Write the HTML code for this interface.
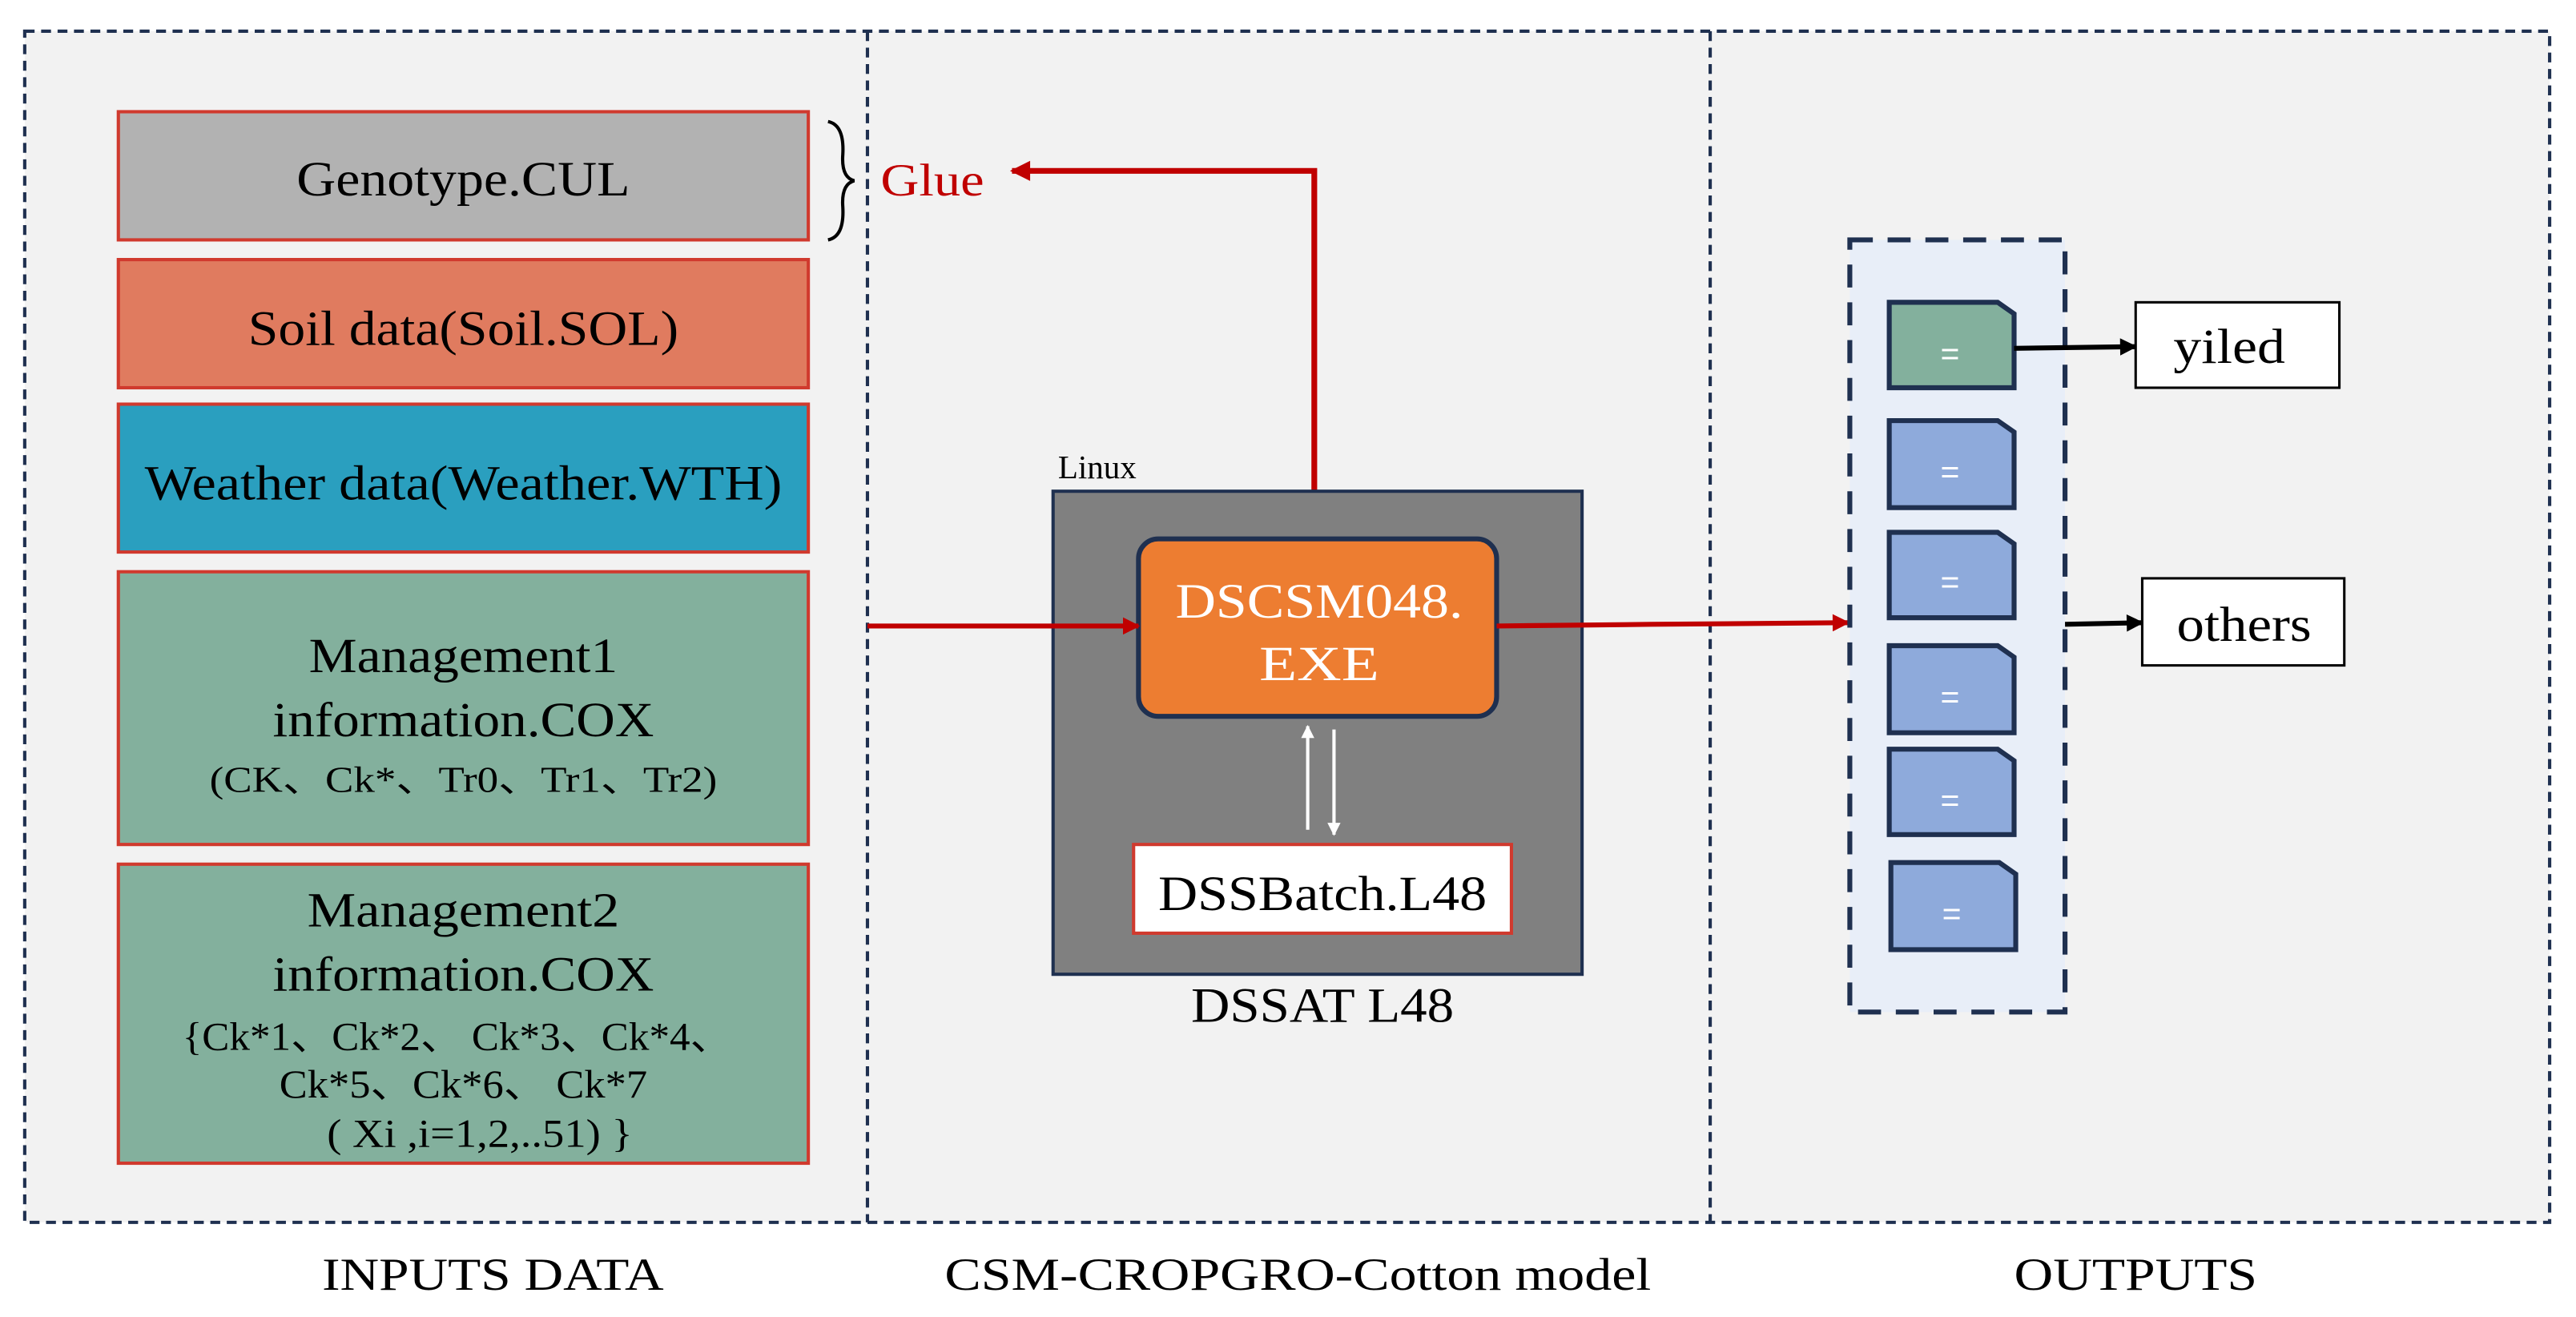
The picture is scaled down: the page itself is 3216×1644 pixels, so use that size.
<!DOCTYPE html>
<html><head><meta charset="utf-8"><style>html,body{margin:0;padding:0;background:#fff}svg{display:block}</style></head>
<body>
<svg width="3216" height="1644" viewBox="0 0 1568 801.6" xmlns="http://www.w3.org/2000/svg" font-family="Liberation Serif, serif">
<defs>
<marker id="ar" viewBox="0 0 10 10" refX="9" refY="5" markerWidth="5" markerHeight="3.5" orient="auto" markerUnits="strokeWidth"><path d="M0,0L10,5L0,10z" fill="#c00000"/></marker>
<marker id="ab" viewBox="0 0 10 10" refX="9" refY="5" markerWidth="5" markerHeight="3.5" orient="auto" markerUnits="strokeWidth"><path d="M0,0L10,5L0,10z" fill="#000"/></marker>
<marker id="aw" viewBox="0 0 10 10" refX="9" refY="5" markerWidth="5" markerHeight="4" orient="auto" markerUnits="strokeWidth"><path d="M0,0L10,5L0,10z" fill="#fff"/></marker>
</defs>
<rect x="15" y="19" width="1537" height="725" fill="#f2f2f2" stroke="#1f3050" stroke-width="2" stroke-dasharray="6,4"/>
<line x1="528" y1="19" x2="528" y2="744" stroke="#1f3050" stroke-width="2" stroke-dasharray="6,4"/>
<line x1="1041" y1="19" x2="1041" y2="744" stroke="#1f3050" stroke-width="2" stroke-dasharray="6,4"/>
<g stroke="#d03a2e" stroke-width="2">
<rect x="72" y="68" width="420" height="78" fill="#b2b2b2"/>
<rect x="72" y="158" width="420" height="78" fill="#e07b5f"/>
<rect x="72" y="246" width="420" height="90" fill="#2a9fbf"/>
<rect x="72" y="348" width="420" height="166" fill="#83b09d"/>
<rect x="72" y="526" width="420" height="182" fill="#83b09d"/>
</g>
<g text-anchor="middle" fill="#000" font-size="30">
<text x="282" y="119" textLength="203" lengthAdjust="spacingAndGlyphs">Genotype.CUL</text>
<text x="282" y="210" textLength="262" lengthAdjust="spacingAndGlyphs">Soil data(Soil.SOL)</text>
<text x="282" y="304" textLength="388" lengthAdjust="spacingAndGlyphs">Weather data(Weather.WTH)</text>
<text x="282" y="409" textLength="188" lengthAdjust="spacingAndGlyphs">Management1</text>
<text x="282" y="448" textLength="232" lengthAdjust="spacingAndGlyphs">information.COX</text>
<text x="282" y="482" font-size="22" textLength="309" lengthAdjust="spacingAndGlyphs">(CK、Ck*、Tr0、Tr1、Tr2)</text>
<text x="282" y="564" textLength="190" lengthAdjust="spacingAndGlyphs">Management2</text>
<text x="282" y="603" textLength="232" lengthAdjust="spacingAndGlyphs">information.COX</text>
<text x="278" y="639" font-size="24" textLength="334" lengthAdjust="spacingAndGlyphs">{Ck*1、Ck*2、 Ck*3、Ck*4、</text>
<text x="282" y="668" font-size="24" textLength="224" lengthAdjust="spacingAndGlyphs">Ck*5、Ck*6、 Ck*7</text>
<text x="292" y="698" font-size="24" textLength="186" lengthAdjust="spacingAndGlyphs">( Xi ,i=1,2,..51) }</text>
</g>
<path d="M504,74 Q514,76 513,94 Q512,108 520,110 Q512,112 513,126 Q514,144 504,146" fill="none" stroke="#000" stroke-width="2"/>
<text x="536" y="119" font-size="28" fill="#c00000" textLength="63" lengthAdjust="spacingAndGlyphs">Glue</text>
<polyline points="800,330 800,104 616,104" fill="none" stroke="#c00000" stroke-width="3.5" marker-end="url(#ar)"/>
<text x="644" y="291" font-size="20">Linux</text>
<rect x="641" y="299" width="322" height="294" fill="#808080" stroke="#1f3050" stroke-width="2"/>
<rect x="693" y="328" width="218" height="108" rx="12" fill="#ed7d31" stroke="#1f3050" stroke-width="3"/>
<text x="803" y="376" font-size="30" fill="#fff" text-anchor="middle" textLength="175" lengthAdjust="spacingAndGlyphs">DSCSM048.</text>
<text x="803" y="414" font-size="30" fill="#fff" text-anchor="middle" textLength="73" lengthAdjust="spacingAndGlyphs">EXE</text>
<line x1="796" y1="505" x2="796" y2="442" stroke="#fff" stroke-width="2" marker-end="url(#aw)"/>
<line x1="812" y1="444" x2="812" y2="508" stroke="#fff" stroke-width="2" marker-end="url(#aw)"/>
<rect x="690" y="514" width="230" height="54" fill="#fff" stroke="#d03a2e" stroke-width="2"/>
<text x="805" y="554" font-size="30" text-anchor="middle" textLength="200" lengthAdjust="spacingAndGlyphs">DSSBatch.L48</text>
<text x="805" y="622" font-size="30" text-anchor="middle" textLength="160" lengthAdjust="spacingAndGlyphs">DSSAT L48</text>
<line x1="528" y1="381" x2="693" y2="381" stroke="#c00000" stroke-width="3" marker-end="url(#ar)"/>
<polyline points="911,381 1005,380 1125,379" fill="none" stroke="#c00000" stroke-width="3" marker-end="url(#ar)"/>
<rect x="1126" y="146" width="131" height="470" fill="#e8eef8" stroke="#1f3050" stroke-width="3" stroke-dasharray="14,9"/>
<g stroke="#1f3050" stroke-width="3">
<path d="M1150,184H1216L1226,191V236H1150Z" fill="#83b09d"/>
<path d="M1150,256H1216L1226,263V309H1150Z" fill="#8eaadb"/>
<path d="M1150,324H1216L1226,331V376H1150Z" fill="#8eaadb"/>
<path d="M1150,393H1216L1226,400V446H1150Z" fill="#8eaadb"/>
<path d="M1150,456H1216L1226,463V508H1150Z" fill="#8eaadb"/>
<path d="M1151,525H1217L1227,532V578H1151Z" fill="#8eaadb"/>
</g>
<g fill="#fff" font-family="Liberation Sans, sans-serif" font-size="20" text-anchor="middle">
<text x="1187" y="222">=</text><text x="1187" y="294">=</text><text x="1187" y="361">=</text>
<text x="1187" y="431">=</text><text x="1187" y="494">=</text><text x="1188" y="563">=</text>
</g>
<line x1="1226" y1="212" x2="1300" y2="211" stroke="#000" stroke-width="3" marker-end="url(#ab)"/>
<line x1="1257" y1="380" x2="1304" y2="379" stroke="#000" stroke-width="3" marker-end="url(#ab)"/>
<rect x="1300" y="184" width="124" height="52" fill="#fff" stroke="#000" stroke-width="1.5"/>
<text x="1357" y="221" font-size="30" text-anchor="middle" textLength="68" lengthAdjust="spacingAndGlyphs">yiled</text>
<rect x="1304" y="352" width="123" height="53" fill="#fff" stroke="#000" stroke-width="1.5"/>
<text x="1366" y="390" font-size="30" text-anchor="middle" textLength="82" lengthAdjust="spacingAndGlyphs">others</text>
<g font-size="28" text-anchor="middle">
<text x="300" y="785" textLength="208" lengthAdjust="spacingAndGlyphs">INPUTS DATA</text>
<text x="790" y="785" textLength="430" lengthAdjust="spacingAndGlyphs">CSM-CROPGRO-Cotton model</text>
<text x="1300" y="785" textLength="148" lengthAdjust="spacingAndGlyphs">OUTPUTS</text>
</g>
</svg>
</body></html>
